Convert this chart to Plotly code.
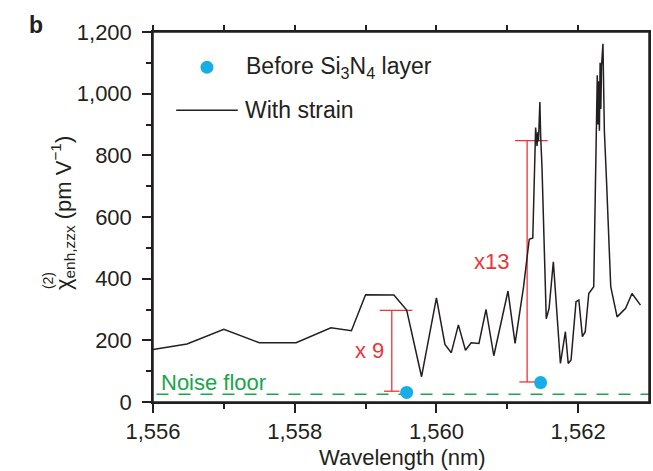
import plotly.graph_objects as go

# ---------------- data ----------------
strain_x = [1556.00, 1556.48, 1557.00, 1557.50, 1558.02, 1558.51, 1558.80, 1559.00,
            1559.40, 1559.58, 1559.79, 1560.00, 1560.12, 1560.21, 1560.31, 1560.41,
            1560.49, 1560.60, 1560.70, 1560.81, 1561.01, 1561.11, 1561.23, 1561.31,
            1561.36, 1561.40, 1561.42, 1561.43, 1561.44, 1561.46, 1561.47, 1561.49,
            1561.55, 1561.59, 1561.65, 1561.75, 1561.82, 1561.86, 1561.90, 1561.97,
            1562.01, 1562.06, 1562.10, 1562.15, 1562.22, 1562.26, 1562.27, 1562.28,
            1562.29, 1562.30, 1562.31, 1562.32, 1562.33, 1562.35, 1562.36, 1562.37,
            1562.40, 1562.46, 1562.55, 1562.67, 1562.76, 1562.88]
strain_y = [170, 188, 236, 192, 192, 241, 231, 348,
            347, 298, 82, 338, 187, 160, 250, 168,
            192, 190, 300, 150, 360, 190, 374, 528,
            532, 890, 830, 875, 845, 973, 870, 760,
            270, 304, 455, 125, 228, 125, 136, 325,
            331, 212, 228, 352, 374, 1000, 1060, 900,
            1040, 880, 1100, 950, 1090, 1162, 1010, 880,
            720, 374, 276, 304, 352, 314]

before_x = [1559.58, 1561.47]
before_y = [31, 63]

noise_floor = 25

# enhancement bars: position, lower value, upper value
bar_x = [1559.37, 1561.28]
bar_low = [35, 65]
bar_high = [297, 848]
bar_labels = ["x 9", "x13"]

x_tick_vals = [1556, 1558, 1560, 1562]
x_tick_text = ["1,556", "1,558", "1,560", "1,562"]
x_minor_vals = [1557, 1559, 1561]
y_tick_vals = [0, 200, 400, 600, 800, 1000, 1200]
y_tick_text = ["0", "200", "400", "600", "800", "1,000", "1,200"]
y_minor_vals = [100, 300, 500, 700, 900, 1100]

# ---------------- styles ----------------
INK = "#231f20"
BLUE = "#17aee8"
RED = "#ec3535"
GREEN = "#1aa64a"
FONT = "Liberation Sans, Arial, Helvetica, sans-serif"

fig = go.Figure()

# noise floor
fig.add_trace(go.Scatter(x=[1556.05, 1563], y=[noise_floor, noise_floor], mode="lines",
                         line=dict(color=GREEN, width=1.6, dash="12px,10px"),
                         hoverinfo="skip"))

# red enhancement bars (vertical + caps)
top_half = 0.23
bot_half = 0.11
bx, by = [], []
for x, lo, hi in zip(bar_x, bar_low, bar_high):
    bx += [x, x, None, x - top_half + 0.06, x + top_half + 0.06, None,
           x - bot_half, x + bot_half, None]
    by += [lo, hi, None, hi, hi, None, lo, lo, None]
fig.add_trace(go.Scatter(x=bx, y=by, mode="lines", line=dict(color=RED, width=1.3),
                         hoverinfo="skip"))

# with strain line
fig.add_trace(go.Scatter(x=strain_x, y=strain_y, mode="lines",
                         line=dict(color=INK, width=1.5), name="With strain"))

# before Si3N4 points
fig.add_trace(go.Scatter(x=before_x, y=before_y, mode="markers",
                         marker=dict(color=BLUE, size=13), name="Before Si3N4 layer"))

# invisible trace to carry the top tick axis
fig.add_trace(go.Scatter(x=strain_x[:1], y=strain_y[:1], xaxis="x2", mode="markers",
                         marker=dict(opacity=0), hoverinfo="skip"))

axis_common = dict(showline=True, linecolor=INK, linewidth=1.5, mirror=True,
                   showgrid=False, zeroline=False, ticks="outside", ticklen=9,
                   tickwidth=1.5, tickcolor=INK,
                   tickfont=dict(family=FONT, size=22, color=INK))

fig.update_xaxes(range=[1556, 1563], tickvals=x_tick_vals, ticktext=x_tick_text,
                 minor=dict(tickvals=x_minor_vals, ticks="outside", ticklen=5,
                            tickwidth=1.5, tickcolor=INK),
                 **axis_common)
fig.update_yaxes(range=[0, 1200], tickvals=y_tick_vals, ticktext=y_tick_text,
                 minor=dict(tickvals=y_minor_vals, ticks="outside", ticklen=5,
                            tickwidth=1.5, tickcolor=INK),
                 ticklabelstandoff=6,
                 **axis_common)

P = dict(xref="paper", yref="paper", showarrow=False)
ann = []
# panel label
ann.append(dict(text="<b>b</b>", x=-0.236, y=1.018, xanchor="center", yanchor="middle",
                font=dict(family=FONT, size=23, color=INK), **P))
# x title
ann.append(dict(text="Wavelength (nm)", x=0.503, y=-0.151, xanchor="center",
                yanchor="middle", font=dict(family=FONT, size=22, color=INK), **P))
# y title
ann.append(dict(text="χ<sub>enh,zzx</sub> (pm V<sup>−1</sup>)", textangle=-90,
                x=-0.182, y=0.51, xanchor="center", yanchor="middle",
                font=dict(family=FONT, size=22, color=INK), **P))
ann.append(dict(text="(2)", textangle=-90, x=-0.212, y=0.329, xanchor="center",
                yanchor="middle", font=dict(family=FONT, size=14, color=INK), **P))
# bar labels
ann.append(dict(text=bar_labels[0], x=1559.05, y=168, showarrow=False,
                xanchor="center", yanchor="middle",
                font=dict(family=FONT, size=22, color=RED)))
ann.append(dict(text=bar_labels[1], x=1560.78, y=455, showarrow=False,
                xanchor="center", yanchor="middle",
                font=dict(family=FONT, size=22, color=RED)))
# noise floor label
ann.append(dict(text="Noise floor", x=1556.08, y=64, xanchor="left", yanchor="middle",
                showarrow=False, font=dict(family=FONT, size=22, color=GREEN)))
# legend texts
ann.append(dict(text="Before Si<sub>3</sub>N<sub>4</sub> layer", x=0.183, y=0.9047,
                xanchor="left", yanchor="middle",
                font=dict(family=FONT, size=23, color=INK), **P))
ann.append(dict(text="With strain", x=0.181, y=0.7885, xanchor="left", yanchor="middle",
                font=dict(family=FONT, size=23, color=INK), **P))

shapes = [
    # plot frame
    dict(type="rect", xref="paper", yref="paper", x0=0, x1=1, y0=0, y1=1,
         line=dict(color=INK, width=1.5), fillcolor="rgba(0,0,0,0)", layer="above"),
    # legend symbols
    dict(type="circle", xref="paper", yref="paper", xsizemode="pixel", ysizemode="pixel",
         xanchor=0.1088, yanchor=0.9047, x0=-6.5, x1=6.5, y0=-6.5, y1=6.5,
         fillcolor=BLUE, line=dict(width=0)),
    dict(type="line", xref="paper", yref="paper", x0=0.0467, x1=0.1709,
         y0=0.7885, y1=0.7885, line=dict(color=INK, width=1.5)),
]

fig.update_layout(width=653, height=471, margin=dict(l=153, r=2, t=32, b=69),
                  paper_bgcolor="white", plot_bgcolor="white", showlegend=False,
                  font=dict(family=FONT, size=22, color=INK),
                  xaxis2=dict(overlaying="x", side="top", range=[1556, 1563],
                              tickvals=x_tick_vals + x_minor_vals, showticklabels=False,
                              ticks="outside", ticklen=6, tickwidth=1.5, tickcolor=INK,
                              showline=False, showgrid=False, zeroline=False),
                  annotations=ann, shapes=shapes)

fig.write_html("out.html", config={"displayModeBar": False},
               post_script="document.body.style.margin='0';"
                           "document.body.style.overflow='hidden';")
